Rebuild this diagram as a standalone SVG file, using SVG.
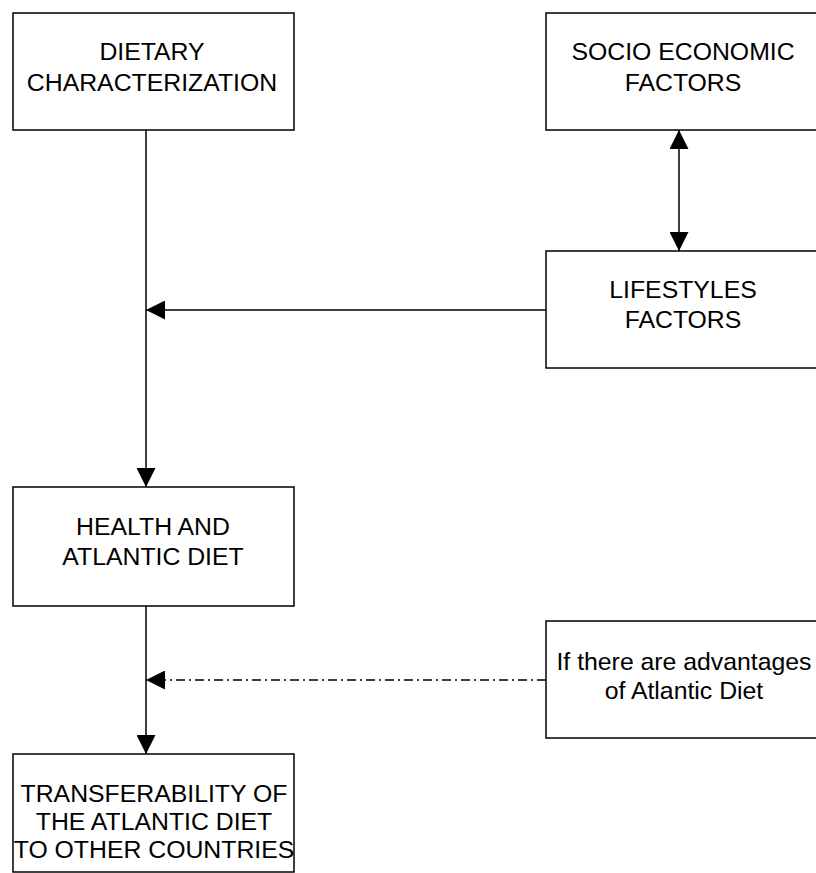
<svg xmlns="http://www.w3.org/2000/svg" width="816" height="873" viewBox="0 0 816 873">
<style>
.box{fill:#fff;stroke:#000;stroke-width:1.5}
.t{font-family:"Liberation Sans",Arial,sans-serif;font-size:24.8px;fill:#000;text-anchor:middle}
.c{stroke:#000;stroke-width:1.5;fill:none}
.dd{stroke-dasharray:9 4 2 4}
</style>
<defs>
<marker id="ah" viewBox="0 0 19 19" refX="19" refY="9.5" markerWidth="19" markerHeight="19" markerUnits="userSpaceOnUse" orient="auto-start-reverse">
<path d="M0,0 L19,9.5 L0,19 Z" fill="#000"/>
</marker>
</defs>
<g id="connectors">
<line class="c" x1="146" y1="130" x2="146" y2="487" marker-end="url(#ah)"/>
<line class="c" x1="546" y1="310" x2="146" y2="310" marker-end="url(#ah)"/>
<line class="c" x1="679" y1="130" x2="679" y2="251" marker-start="url(#ah)" marker-end="url(#ah)"/>
<line class="c" x1="146" y1="606" x2="146" y2="754" marker-end="url(#ah)"/>
<line class="c dd" x1="546" y1="680" x2="146" y2="680" marker-end="url(#ah)"/>
</g>
<g id="dietary">
<rect class="box" x="13" y="13" width="281" height="117"/>
<text class="t" x="152" y="60">DIETARY</text>
<text class="t" x="152" y="91">CHARACTERIZATION</text>
</g>
<g id="socio">
<rect class="box" x="546" y="13" width="281" height="117"/>
<text class="t" x="683" y="60">SOCIO ECONOMIC</text>
<text class="t" x="683" y="91">FACTORS</text>
</g>
<g id="lifestyles">
<rect class="box" x="546" y="251" width="281" height="117"/>
<text class="t" x="683" y="298">LIFESTYLES</text>
<text class="t" x="683" y="328">FACTORS</text>
</g>
<g id="health">
<rect class="box" x="13" y="487" width="281" height="119"/>
<text class="t" x="153" y="535">HEALTH AND</text>
<text class="t" x="153" y="565">ATLANTIC DIET</text>
</g>
<g id="advantages">
<rect class="box" x="546" y="621" width="281" height="117"/>
<text class="t" x="684" y="670">If there are advantages</text>
<text class="t" x="684" y="699">of Atlantic Diet</text>
</g>
<g id="transferability">
<rect class="box" x="13" y="754" width="281" height="118"/>
<text class="t" x="154" y="802">TRANSFERABILITY OF</text>
<text class="t" x="154" y="830">THE ATLANTIC DIET</text>
<text class="t" x="154" y="858">TO OTHER COUNTRIES</text>
</g>
</svg>
